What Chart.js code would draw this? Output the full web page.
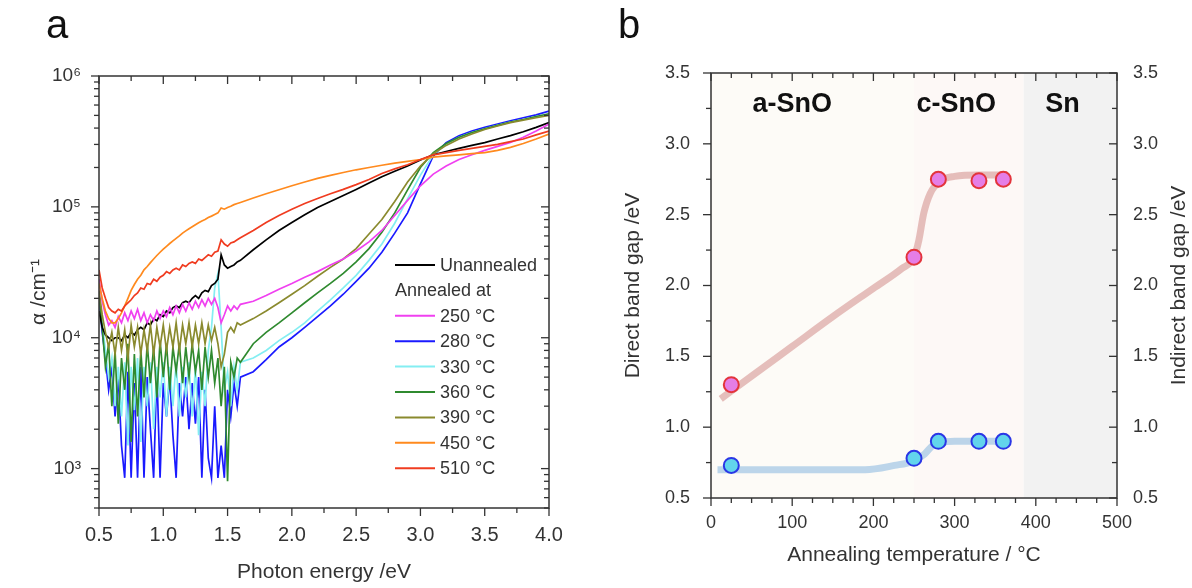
<!DOCTYPE html>
<html>
<head>
<meta charset="utf-8">
<script src="https://cdn.jsdelivr.net/npm/chart.js@4.4.1/dist/chart.umd.min.js"></script>
<style>
  html, body { margin: 0; padding: 0; background: #fff; }
  #wrap { position: relative; width: 1192px; height: 588px; overflow: hidden; font-family: "Liberation Sans", Arial, sans-serif; }
  .panel { position: absolute; top: 0; height: 588px; }
  #pa { left: 0; width: 600px; }
  #pb { left: 600px; width: 592px; }
  .tag { position: absolute; font-size: 40px; line-height: 40px; color: #111; }
</style>
</head>
<body>
<div id="wrap">
  <div class="panel" id="pa"><canvas id="chartA" width="600" height="588"></canvas></div>
  <div class="panel" id="pb"><canvas id="chartB" width="592" height="588"></canvas></div>
  <div class="tag" style="left:46px;top:4px">a</div>
  <div class="tag" style="left:618px;top:4px">b</div>
</div>
<script>
// ---- panel a: absorption spectra ----
const energy = [0.5, 0.525, 0.55, 0.575, 0.6, 0.625, 0.65, 0.675, 0.7, 0.725, 0.75, 0.775, 0.8, 0.825, 0.85,
  0.875, 0.9, 0.925, 0.95, 0.975, 1.0, 1.025, 1.05, 1.075, 1.1, 1.125, 1.15, 1.175, 1.2, 1.225, 1.25, 1.275,
  1.3, 1.325, 1.35, 1.375, 1.4, 1.425, 1.45, 1.475, 1.5, 1.525, 1.55, 1.575, 1.6,
  1.7, 1.8, 1.9, 2.0, 2.1, 2.2, 2.3, 2.4, 2.5, 2.6, 2.7, 2.8, 2.9, 3.0, 3.1, 3.2, 3.3, 3.4, 3.5, 3.6, 3.7,
  3.8, 3.9, 4.0]

const alphaUnannealed = [1.6e4, 1.2e4, 1.05e4, 1.0e4, 0.95e4, 1.0e4, 1.0e4, 0.95e4, 1.05e4, 1.0e4,
  1.1e4, 1.05e4, 1.15e4, 1.2e4, 1.15e4, 1.3e4, 1.25e4, 1.4e4, 1.35e4, 1.5e4,
  1.45e4, 1.6e4, 1.55e4, 1.7e4, 1.75e4, 1.7e4, 1.85e4, 1.9e4, 1.85e4, 2.0e4,
  2.1e4, 2.0e4, 2.2e4, 2.3e4, 2.25e4, 2.5e4, 2.6e4, 2.8e4, 4.3e4, 3.6e4,
  3.4e4, 3.5e4, 3.6e4, 3.8e4, 3.9e4,
  4.7e4, 5.6e4, 6.6e4, 7.6e4, 8.7e4, 9.9e4, 1.1e5, 1.22e5, 1.36e5, 1.52e5, 1.7e5, 1.87e5,
  2.05e5, 2.28e5, 2.5e5, 2.65e5, 2.8e5, 2.95e5, 3.1e5, 3.3e5, 3.5e5, 3.75e5, 4.05e5, 4.4e5]

const alpha250 = [2.8e4, 1.9e4, 1.5e4, 1.25e4, 1.35e4, 1.2e4, 1.45e4, 1.3e4, 1.55e4, 1.35e4,
  1.6e4, 1.4e4, 1.65e4, 1.35e4, 1.55e4, 1.3e4, 1.5e4, 1.35e4, 1.6e4, 1.4e4,
  1.6e4, 1.45e4, 1.7e4, 1.5e4, 1.75e4, 1.55e4, 1.8e4, 1.6e4, 1.85e4, 1.65e4,
  1.9e4, 1.7e4, 1.95e4, 1.75e4, 2.0e4, 1.8e4, 2.0e4, 1.7e4, 1.3e4, 1.5e4,
  1.75e4, 1.6e4, 1.75e4, 1.65e4, 1.8e4,
  1.9e4, 2.1e4, 2.35e4, 2.6e4, 2.9e4, 3.2e4, 3.6e4, 4.0e4, 4.6e4, 5.4e4, 6.6e4, 8.6e4,
  1.12e5, 1.45e5, 1.78e5, 2.05e5, 2.3e5, 2.5e5, 2.7e5, 2.9e5, 3.1e5, 3.4e5, 3.8e5, 4.3e5]

const alpha280 = [2.0e4, 1.1e4, 7e3, 4e3, 6e3, 2.5e3, 5e3, 1.5e3, 850, 5.5e3,
  850, 4.5e3, 850, 6e3, 850, 5e3, 2e3, 850, 5.5e3, 850,
  4.5e3, 2.5e3, 5e3, 1.8e3, 850, 4.5e3, 2.5e3, 5e3, 2e3, 4.5e3,
  2.2e3, 5e3, 850, 4e3, 1.2e3, 850, 3e3, 850, 1.5e3, 850,
  4e3, 2.5e3, 4.5e3, 3e3, 5e3,
  5.5e3, 6.8e3, 8.5e3, 1.0e4, 1.2e4, 1.45e4, 1.75e4, 2.15e4, 2.7e4, 3.4e4, 4.5e4, 6.3e4,
  9.0e4, 1.5e5, 2.45e5, 3.1e5, 3.5e5, 3.8e5, 4.05e5, 4.3e5, 4.55e5, 4.8e5, 5.05e5, 5.4e5]

const alpha330 = [2.2e4, 1.3e4, 8e3, 5e3, 7e3, 3e3, 6e3, 2.5e3, 6.5e3, 1.5e3,
  6e3, 2.8e3, 7e3, 1.6e3, 6e3, 3e3, 6.5e3, 2e3, 6e3, 3.5e3,
  6.5e3, 2.5e3, 6e3, 3e3, 6.5e3, 2.5e3, 6e3, 3.5e3, 6.5e3, 2.5e3,
  6e3, 1.8e3, 5.5e3, 3e3, 8e3, 1.2e4, 2.4e4, 3.1e4, 1.2e4, 4e3,
  5.5e3, 3e3, 6e3, 4e3, 6.5e3,
  7e3, 8e3, 9.5e3, 1.1e4, 1.3e4, 1.6e4, 1.95e4, 2.4e4, 3.0e4, 3.9e4, 5.2e4, 7.5e4,
  1.15e5, 1.75e5, 2.5e5, 3.0e5, 3.4e5, 3.7e5, 3.95e5, 4.2e5, 4.45e5, 4.65e5, 4.9e5, 5.1e5]

const alpha360 = [2.1e4, 1.2e4, 6e3, 9e3, 3e3, 8e3, 2.2e3, 7e3, 4e3, 9e3,
  1.6e3, 7.5e3, 2.5e3, 8e3, 3.5e3, 9e3, 4.5e3, 8.5e3, 3.5e3, 9.5e3,
  5e3, 9e3, 4e3, 8.5e3, 5.5e3, 9e3, 4.5e3, 8.5e3, 5e3, 9e3,
  5.5e3, 8e3, 4e3, 8.5e3, 5e3, 8e3, 4.5e3, 7e3, 3e3, 6e3,
  800, 6.5e3, 5e3, 7e3, 6.5e3,
  9e3, 1.1e4, 1.3e4, 1.55e4, 1.85e4, 2.2e4, 2.6e4, 3.1e4, 3.8e4, 4.8e4, 6.4e4, 9.0e4,
  1.35e5, 2.0e5, 2.6e5, 3.05e5, 3.4e5, 3.7e5, 3.95e5, 4.2e5, 4.45e5, 4.65e5, 4.9e5, 5.15e5]

const alpha390 = [2.3e4, 1.5e4, 1.1e4, 8.5e3, 1.1e4, 7.5e3, 1.2e4, 8e3, 1.15e4, 7e3,
  1.25e4, 8.5e3, 1.2e4, 7.5e3, 1.15e4, 8e3, 1.25e4, 7.5e3, 1.2e4, 8.5e3,
  1.25e4, 8e3, 1.2e4, 8.5e3, 1.3e4, 8e3, 1.25e4, 9e3, 1.3e4, 8.5e3,
  1.25e4, 9e3, 1.3e4, 9e3, 1.25e4, 9.5e3, 1.2e4, 9e3, 6e3, 7.5e3,
  1.1e4, 1.2e4, 1.1e4, 1.3e4, 1.25e4,
  1.4e4, 1.6e4, 1.85e4, 2.15e4, 2.5e4, 2.95e4, 3.45e4, 4.0e4, 4.8e4, 6.2e4, 8.0e4, 1.1e5,
  1.55e5, 2.05e5, 2.55e5, 2.95e5, 3.3e5, 3.6e5, 3.9e5, 4.15e5, 4.4e5, 4.6e5, 4.8e5, 5.0e5]

const alpha450 = [2.6e4, 2.0e4, 1.6e4, 1.4e4, 1.3e4, 1.3e4, 1.4e4, 1.55e4, 1.75e4, 2.0e4,
  2.3e4, 2.55e4, 2.8e4, 3.0e4, 3.3e4, 3.5e4, 3.75e4, 4.0e4, 4.25e4, 4.5e4,
  4.75e4, 5.0e4, 5.25e4, 5.5e4, 5.75e4, 6.0e4, 6.3e4, 6.55e4, 6.8e4, 7.05e4,
  7.3e4, 7.55e4, 7.8e4, 8.0e4, 8.3e4, 8.5e4, 8.75e4, 9.0e4, 9.8e4, 9.6e4,
  9.9e4, 1.01e5, 1.04e5, 1.06e5, 1.08e5,
  1.17e5, 1.26e5, 1.35e5, 1.45e5, 1.55e5, 1.65e5, 1.74e5, 1.83e5, 1.92e5, 2.0e5, 2.08e5, 2.16e5,
  2.23e5, 2.3e5, 2.4e5, 2.45e5, 2.5e5, 2.55e5, 2.6e5, 2.7e5, 2.85e5, 3.05e5, 3.3e5, 3.6e5]

const alpha510 = [3.3e4, 2.4e4, 2.0e4, 1.7e4, 1.6e4, 1.55e4, 1.65e4, 1.6e4, 1.75e4, 1.85e4,
  1.95e4, 2.1e4, 2.2e4, 2.4e4, 2.35e4, 2.6e4, 2.55e4, 2.8e4, 2.7e4, 2.9e4,
  3.0e4, 3.2e4, 3.1e4, 3.3e4, 3.4e4, 3.3e4, 3.6e4, 3.5e4, 3.7e4, 3.8e4,
  3.7e4, 4.0e4, 3.9e4, 4.1e4, 4.3e4, 4.2e4, 4.5e4, 4.6e4, 5.6e4, 5.2e4,
  5.0e4, 5.3e4, 5.4e4, 5.6e4, 5.8e4,
  6.6e4, 7.6e4, 8.6e4, 9.6e4, 1.06e5, 1.16e5, 1.26e5, 1.36e5, 1.48e5, 1.62e5, 1.8e5, 1.95e5,
  2.1e5, 2.3e5, 2.5e5, 2.6e5, 2.7e5, 2.8e5, 2.9e5, 3.0e5, 3.15e5, 3.3e5, 3.55e5, 3.8e5]

const energyTicks = [0.5, 1.0, 1.5, 2.0, 2.5, 3.0, 3.5, 4.0]
const alphaTicks = [1e3, 1e4, 1e5, 1e6]

// ---- panel b: band gaps ----
const temps = [25, 250, 280, 330, 360]
const directGap = [1.30, 2.20, 2.75, 2.74, 2.75]
const indirectGap = [0.73, 0.78, 0.90, 0.90, 0.90]

// guide curves
const directFitT = [12, 50, 100, 150, 200, 235, 250, 256, 262, 270, 283, 300, 330, 365]
const directFit = [1.20, 1.36, 1.57, 1.78, 1.98, 2.12, 2.20, 2.32, 2.51, 2.65, 2.74, 2.77, 2.78, 2.78]
const indirectFitT = [8, 100, 190, 226, 249, 263, 273, 282, 300, 365]
const indirectFit = [0.70, 0.70, 0.70, 0.73, 0.76, 0.81, 0.87, 0.89, 0.90, 0.90]

const phaseEdges = [0, 250, 385, 500]
const phaseNames = ['a-SnO', 'c-SnO', 'Sn']
const phaseLabelT = [100, 302, 433]

const tempTicks = [0, 100, 200, 300, 400, 500]
const gapTicks = [0.5, 1.0, 1.5, 2.0, 2.5, 3.0, 3.5]

Chart.defaults.font.family = '"Liberation Sans", Arial, sans-serif'
Chart.defaults.color = '#333'

const SUP = { 2: '²', 3: '³', 4: '⁴', 5: '⁵', 6: '⁶' }

// minor ticks between major ones
function between(ticks, n) {
  const out = []
  for (let i = 0; i < ticks.length - 1; i++) {
    const step = (ticks[i + 1] - ticks[i]) / (n + 1)
    for (let k = 1; k <= n; k++) out.push(ticks[i] + step * k)
  }
  return out
}

function logMinor(min, max) {
  const out = []
  for (let e = Math.floor(Math.log10(min)); e < Math.log10(max); e++) {
    for (let m = 2; m <= 9; m++) {
      const v = m * Math.pow(10, e)
      if (v >= min && v <= max) out.push(v)
    }
  }
  return out
}

// box + ticks: left/bottom point out, top/right point in
const frame = {
  id: 'frame',
  afterDatasetsDraw(chart, args, o) {
    const { ctx, chartArea: a } = chart
    const xs = chart.scales.x
    const ys = chart.scales.y
    ctx.save()
    ctx.strokeStyle = '#333'
    ctx.lineWidth = 1.5
    ctx.strokeRect(a.left, a.top, a.right - a.left, a.bottom - a.top)
    ctx.lineWidth = 1.3
    const seg = (x1, y1, x2, y2) => {
      ctx.beginPath()
      ctx.moveTo(x1, y1)
      ctx.lineTo(x2, y2)
      ctx.stroke()
    }
    const xt = (vals, len) => vals.forEach((v) => {
      const p = xs.getPixelForValue(v)
      seg(p, a.bottom, p, a.bottom + len)
      seg(p, a.top, p, a.top + len)
    })
    const yt = (vals, len) => vals.forEach((v) => {
      const p = ys.getPixelForValue(v)
      seg(a.left - len, p, a.left, p)
      seg(a.right - len, p, a.right, p)
    })
    xt(o.xMajor, 8)
    xt(o.xMinor, 5)
    yt(o.yMajor, 8)
    yt(o.yMinor, 5)
    ctx.restore()
  }
}

// ---- chart a ----
const spectra = [
  { label: 'Unannealed', values: alphaUnannealed, color: '#000000', order: 5 },
  { label: '250 °C', values: alpha250, color: '#f040f0', order: 3 },
  { label: '280 °C', values: alpha280, color: '#1a1aff', order: 8 },
  { label: '330 °C', values: alpha330, color: '#84eef2', order: 7 },
  { label: '360 °C', values: alpha360, color: '#2f8a2f', order: 6 },
  { label: '390 °C', values: alpha390, color: '#8a8a2e', order: 4 },
  { label: '450 °C', values: alpha450, color: '#ff8a1e', order: 2 },
  { label: '510 °C', values: alpha510, color: '#f03c20', order: 1 }
]

const legendA = {
  id: 'legendA',
  afterDatasetsDraw(chart) {
    const { ctx } = chart
    ctx.save()
    ctx.font = '18px "Liberation Sans", Arial, sans-serif'
    ctx.textBaseline = 'middle'
    ctx.fillStyle = '#333'
    ctx.lineWidth = 2
    const rowY = (i) => 265 + i * 25.4
    // first row
    ctx.strokeStyle = spectra[0].color
    ctx.beginPath(); ctx.moveTo(395, rowY(0)); ctx.lineTo(435, rowY(0)); ctx.stroke()
    ctx.fillText(spectra[0].label, 440, rowY(0) + 1)
    ctx.fillText('Annealed at', 395, rowY(1) + 1)
    spectra.slice(1).forEach((s, i) => {
      const y = rowY(i + 2)
      ctx.strokeStyle = s.color
      ctx.beginPath(); ctx.moveTo(395, y); ctx.lineTo(435, y); ctx.stroke()
      ctx.fillText(s.label, 440, y + 1)
    })
    ctx.restore()
  }
}

new Chart(document.getElementById('chartA'), {
  type: 'line',
  data: {
    datasets: spectra.map((s) => ({
      label: s.label,
      data: energy.map((x, i) => ({ x, y: s.values[i] })),
      borderColor: s.color,
      borderWidth: 1.7,
      pointRadius: 0,
      tension: 0,
      order: s.order
    }))
  },
  options: {
    responsive: false,
    animation: false,
    devicePixelRatio: 1,
    layout: { padding: { top: 76, right: 51, left: 0, bottom: 0 } },
    scales: {
      x: {
        type: 'linear',
        min: 0.5,
        max: 4.0,
        afterBuildTicks: (s) => { s.ticks = energyTicks.map((v) => ({ value: v })) },
        afterFit: (s) => { s.height = 80 },
        grid: { display: false },
        border: { display: false },
        ticks: { padding: 7, font: { size: 20 }, callback: (v) => v.toFixed(1) },
        title: { display: true, text: 'Photon energy /eV', font: { size: 21 }, padding: { top: 0, bottom: 3 } }
      },
      y: {
        type: 'logarithmic',
        min: 500,
        max: 1e6,
        afterBuildTicks: (s) => { s.ticks = alphaTicks.map((v) => ({ value: v })) },
        afterFit: (s) => { s.width = 99 },
        grid: { display: false },
        border: { display: false },
        ticks: { padding: 10, font: { size: 19 }, callback: (v) => '10' + SUP[Math.round(Math.log10(v))] },
        title: { display: true, text: 'α /cm⁻¹', font: { size: 21 }, padding: { top: 27, bottom: 0 } }
      }
    },
    plugins: {
      legend: { display: false },
      tooltip: { enabled: false },
      frame: {
        xMajor: energyTicks,
        xMinor: between(energyTicks, 1),
        yMajor: alphaTicks,
        yMinor: logMinor(500, 1e6)
      }
    }
  },
  plugins: [frame, legendA]
})

// ---- chart b ----
const phaseColors = ['#fdfbf7', '#fdf8f6', '#f2f2f2']

const phasesB = {
  id: 'phasesB',
  beforeDatasetsDraw(chart) {
    const { ctx, chartArea: a } = chart
    const xs = chart.scales.x
    const ys = chart.scales.y
    ctx.save()
    phaseNames.forEach((name, i) => {
      const x0 = xs.getPixelForValue(phaseEdges[i])
      const x1 = xs.getPixelForValue(phaseEdges[i + 1])
      ctx.fillStyle = phaseColors[i]
      ctx.fillRect(x0, a.top, x1 - x0, a.bottom - a.top)
    })
    ctx.fillStyle = '#111'
    ctx.font = 'bold 27px "Liberation Sans", Arial, sans-serif'
    ctx.textAlign = 'center'
    ctx.textBaseline = 'middle'
    phaseNames.forEach((name, i) => {
      ctx.fillText(name, xs.getPixelForValue(phaseLabelT[i]), ys.getPixelForValue(3.28))
    })
    ctx.restore()
  },
  afterDraw(chart) {
    const { ctx, chartArea: a } = chart
    ctx.save()
    ctx.translate(chart.width - 13, (a.top + a.bottom) / 2)
    ctx.rotate(-Math.PI / 2)
    ctx.font = '21px "Liberation Sans", Arial, sans-serif'
    ctx.fillStyle = '#333'
    ctx.textAlign = 'center'
    ctx.textBaseline = 'middle'
    ctx.fillText('Indirect band gap /eV', 0, 0)
    ctx.restore()
  }
}

const xy = (xsArr, ysArr) => xsArr.map((x, i) => ({ x, y: ysArr[i] }))

new Chart(document.getElementById('chartB'), {
  type: 'line',
  data: {
    datasets: [
      {
        data: xy(temps, directGap),
        showLine: false,
        pointRadius: 7.5,
        pointBorderWidth: 2,
        pointBackgroundColor: '#e57ee6',
        pointBorderColor: '#e3343c',
        order: 0
      },
      {
        data: xy(temps, indirectGap),
        showLine: false,
        pointRadius: 7.5,
        pointBorderWidth: 2,
        pointBackgroundColor: '#62d4ec',
        pointBorderColor: '#2a36e6',
        order: 1
      },
      {
        data: xy(directFitT, directFit),
        borderColor: 'rgba(214, 150, 146, 0.6)',
        borderWidth: 7,
        pointRadius: 0,
        cubicInterpolationMode: 'monotone',
        borderCapStyle: 'butt',
        order: 2
      },
      {
        data: xy(indirectFitT, indirectFit),
        borderColor: 'rgba(160, 196, 228, 0.7)',
        borderWidth: 7,
        pointRadius: 0,
        cubicInterpolationMode: 'monotone',
        order: 3
      }
    ]
  },
  options: {
    responsive: false,
    animation: false,
    devicePixelRatio: 1,
    layout: { padding: { top: 73, right: 0, left: 0, bottom: 0 } },
    scales: {
      x: {
        type: 'linear',
        min: 0,
        max: 500,
        afterBuildTicks: (s) => { s.ticks = tempTicks.map((v) => ({ value: v })) },
        afterFit: (s) => { s.height = 90 },
        grid: { display: false },
        border: { display: false },
        ticks: { padding: 6, font: { size: 18 } },
        title: { display: true, text: 'Annealing temperature / °C', font: { size: 21 }, padding: { top: 0, bottom: 20 } }
      },
      y: {
        type: 'linear',
        position: 'left',
        min: 0.5,
        max: 3.5,
        afterBuildTicks: (s) => { s.ticks = gapTicks.map((v) => ({ value: v })) },
        afterFit: (s) => { s.width = 111 },
        grid: { display: false },
        border: { display: false },
        ticks: { padding: 13, font: { size: 18 }, callback: (v) => v.toFixed(1) },
        title: { display: true, text: 'Direct band gap /eV', font: { size: 21 }, padding: { top: 21, bottom: 0 } }
      },
      y2: {
        type: 'linear',
        position: 'right',
        min: 0.5,
        max: 3.5,
        afterBuildTicks: (s) => { s.ticks = gapTicks.map((v) => ({ value: v })) },
        afterFit: (s) => { s.width = 75 },
        grid: { display: false },
        border: { display: false },
        ticks: { padding: 8, font: { size: 18 }, callback: (v) => v.toFixed(1) }
      }
    },
    plugins: {
      legend: { display: false },
      tooltip: { enabled: false },
      frame: {
        xMajor: tempTicks,
        xMinor: between(tempTicks, 3),
        yMajor: gapTicks,
        yMinor: between(gapTicks, 1)
      }
    }
  },
  plugins: [phasesB, frame]
})
</script>
</body>
</html>
